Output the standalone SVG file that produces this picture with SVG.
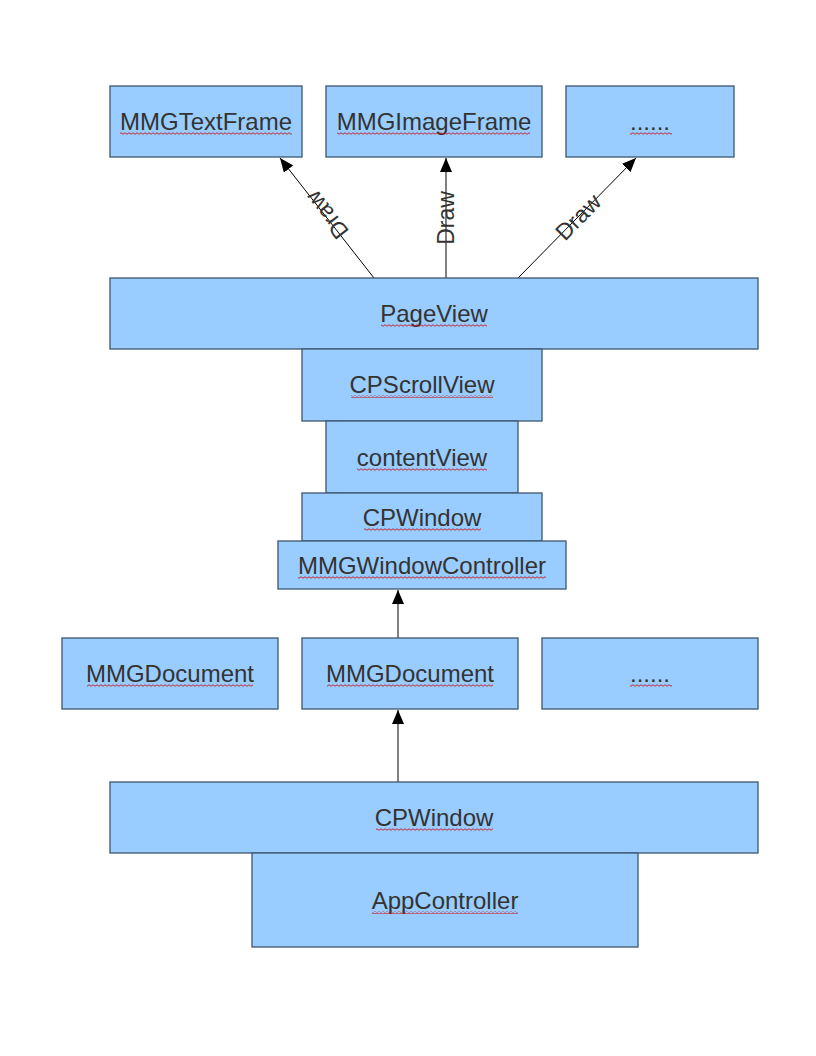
<svg xmlns="http://www.w3.org/2000/svg" width="816" height="1056" viewBox="0 0 816 1056">
<style>
.box{fill:#99ccff;stroke:#3d5670;stroke-width:1.3}
.lbl{font-family:"Liberation Sans",Arial,sans-serif;font-size:24px;fill:#333333;text-anchor:middle}
.dl{font-family:"Liberation Sans",Arial,sans-serif;font-size:23px;fill:#333333;text-anchor:middle}
.con{stroke:#000;stroke-width:1;fill:none;marker-end:url(#ah)}
.wv{fill:url(#wave)}
</style>
<defs>
<marker id="ah" viewBox="0 0 14 12" refX="14" refY="6" markerWidth="14" markerHeight="12" markerUnits="userSpaceOnUse" orient="auto">
<path d="M0,0 L14,6 L0,12 Z" fill="#000"/>
</marker>
<pattern id="wave" width="4" height="3" patternUnits="userSpaceOnUse">
<path d="M0,1.5 Q1,0 2,1.5 T4,1.5" stroke="#cc0000" stroke-width="0.8" fill="none"/>
</pattern>
</defs>
<rect width="816" height="1056" fill="#fff"/>
<g id="connectors">
<line class="con" x1="374" y1="278" x2="280" y2="158"/>
<line class="con" x1="446" y1="278" x2="446" y2="158"/>
<line class="con" x1="518" y1="278" x2="636" y2="158"/>
<line class="con" x1="398" y1="638" x2="398" y2="590"/>
<line class="con" x1="398" y1="782" x2="398" y2="710"/>
<text class="dl" transform="translate(327,215) rotate(-128)" dy="8">Draw</text>
<text class="dl" transform="translate(446,218) rotate(-90)" dy="8">Draw</text>
<text class="dl" transform="translate(578,217) rotate(-45.5)" dy="8">Draw</text>
</g>
<g id="n_textframe"><rect class="box" x="110" y="86" width="192" height="71"/><text class="lbl" x="206" y="130">MMGTextFrame</text><rect class="wv" x="120" y="132" width="172" height="3"/></g>
<g id="n_imageframe"><rect class="box" x="326" y="86" width="216" height="71"/><text class="lbl" x="434" y="130">MMGImageFrame</text><rect class="wv" x="337" y="132" width="193" height="3"/></g>
<g id="n_dots1"><rect class="box" x="566" y="86" width="168" height="71"/><text class="lbl" x="650" y="130">......</text><rect class="wv" x="630" y="132" width="42" height="3"/></g>
<g id="n_pageview"><rect class="box" x="110" y="278" width="648" height="71"/><text class="lbl" x="434" y="322">PageView</text><rect class="wv" x="381" y="324" width="106" height="3"/></g>
<g id="n_scrollview"><rect class="box" x="302" y="349" width="240" height="72"/><text class="lbl" x="422" y="393">CPScrollView</text><rect class="wv" x="351" y="395" width="142" height="3"/></g>
<g id="n_contentview"><rect class="box" x="326" y="421" width="192" height="72"/><text class="lbl" x="422" y="466">contentView</text><rect class="wv" x="357" y="468" width="130" height="3"/></g>
<g id="n_cpwindow1"><rect class="box" x="302" y="493" width="240" height="48"/><text class="lbl" x="422" y="526">CPWindow</text><rect class="wv" x="364" y="528" width="117" height="3"/></g>
<g id="n_wincontroller"><rect class="box" x="278" y="541" width="288" height="48"/><text class="lbl" x="422" y="574">MMGWindowController</text><rect class="wv" x="298" y="576" width="248" height="3"/></g>
<g id="n_doc1"><rect class="box" x="62" y="638" width="216" height="71"/><text class="lbl" x="170" y="682">MMGDocument</text><rect class="wv" x="87" y="684" width="166" height="3"/></g>
<g id="n_doc2"><rect class="box" x="302" y="638" width="216" height="71"/><text class="lbl" x="410" y="682">MMGDocument</text><rect class="wv" x="327" y="684" width="166" height="3"/></g>
<g id="n_dots2"><rect class="box" x="542" y="638" width="216" height="71"/><text class="lbl" x="650" y="682">......</text><rect class="wv" x="630" y="684" width="42" height="3"/></g>
<g id="n_cpwindow2"><rect class="box" x="110" y="782" width="648" height="71"/><text class="lbl" x="434" y="826">CPWindow</text><rect class="wv" x="376" y="828" width="117" height="3"/></g>
<g id="n_appcontroller"><rect class="box" x="252" y="853" width="386" height="94"/><text class="lbl" x="445" y="909">AppController</text><rect class="wv" x="372" y="911" width="146" height="3"/></g>
</svg>
